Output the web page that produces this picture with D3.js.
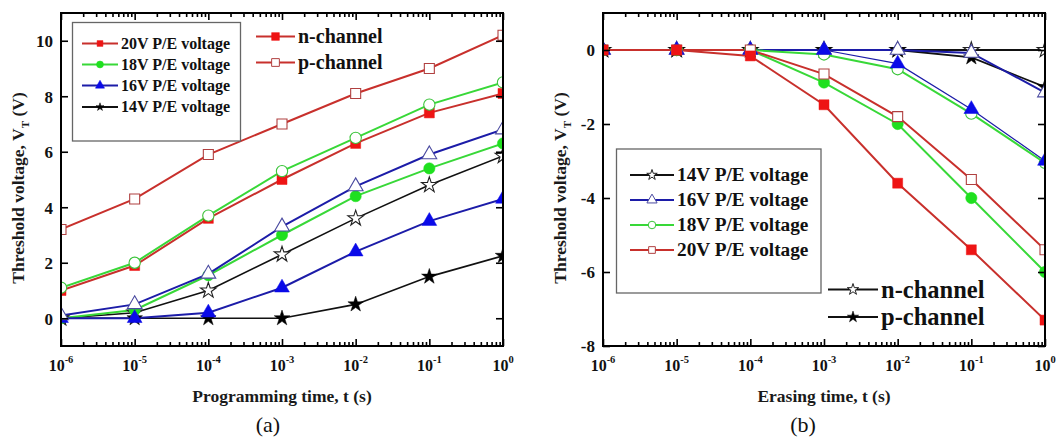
<!DOCTYPE html>
<html>
<head>
<meta charset="utf-8">
<script src="https://cdn.jsdelivr.net/npm/d3@7"></script>
<style>
  html, body { margin: 0; padding: 0; background: #fff; }
  svg { display: block; }
  text { font-family: "Liberation Serif", "Times New Roman", serif; }
</style>
</head>
<body>
<svg id="chart" width="1061" height="439"></svg>
<script>
// ---------- data ----------
const times = [1e-6, 1e-5, 1e-4, 1e-3, 1e-2, 1e-1, 1];
const xTickExponents = [-6, -5, -4, -3, -2, -1, 0];
const progYTicks = [0, 2, 4, 6, 8, 10];
const eraseYTicks = [0, -2, -4, -6, -8];

// (a) Programming: filled = n-channel, open = p-channel
const progN20 = [1.0, 1.9, 3.6, 5.0, 6.3, 7.4, 8.1];
const progP20 = [3.2, 4.3, 5.9, 7.0, 8.1, 9.0, 10.2];
const progN18 = [0.0, 0.3, 1.55, 3.0, 4.4, 5.4, 6.3];
const progP18 = [1.1, 2.0, 3.7, 5.3, 6.5, 7.7, 8.5];
const progN16 = [0.0, 0.0, 0.2, 1.1, 2.4, 3.5, 4.3];
const progP16 = [0.1, 0.5, 1.6, 3.3, 4.75, 5.9, 6.8];
const progN14 = [0.0, 0.0, 0.0, 0.0, 0.5, 1.5, 2.25];
const progP14 = [0.0, 0.2, 1.0, 2.3, 3.6, 4.8, 5.85];

// (b) Erasing: open = n-channel, filled = p-channel
const eraseN14 = [0, 0, 0, 0, 0, 0, 0];
const eraseP14 = [0, 0, 0, 0, 0, -0.2, -1.0];
const eraseN16 = [0, 0, 0, 0, 0, -0.08, -1.15];
const eraseP16 = [0, 0, 0, 0, -0.37, -1.6, -3.0];
const eraseN18 = [0, 0, 0, -0.12, -0.52, -1.72, -3.05];
const eraseP18 = [0, 0, 0, -0.88, -2.0, -4.0, -6.0];
const eraseN20 = [0, 0, 0, -0.65, -1.8, -3.5, -5.4];
const eraseP20 = [0, 0, -0.16, -1.48, -3.6, -5.4, -7.3];

const voltageLabels = ["14V P/E voltage", "16V P/E voltage", "18V P/E voltage", "20V P/E voltage"];

// ---------- styles ----------
const C = {
  black: { line: "#111", fill: "#000", open: "#222" },
  blue:  { line: "#1c1ca8", fill: "#0a0ae8", open: "#4a4aa0" },
  green: { line: "#38d838", fill: "#1fe01f", open: "#3ac43a" },
  red:   { line: "#c8302c", fill: "#ee1414", open: "#b04040" }
};
const SYM = { star: d3.symbolStar, tri: d3.symbolTriangle, circ: d3.symbolCircle, sq: d3.symbolSquare };
const SIZE = { star: 75, tri: 95, circ: 100, sq: 100 };

const svg = d3.select("#chart");

function panel(opt) {
  const x = d3.scaleLog().domain([1e-6, 1]).range([opt.x0, opt.x1]);
  const y = d3.scaleLinear().domain(opt.yDomain).range([346, 13]);
  const g = svg.append("g");
  const clipId = "clip" + opt.id;
  svg.append("defs").append("clipPath").attr("id", clipId)
    .append("rect").attr("x", opt.x0).attr("y", 13)
    .attr("width", opt.x1 - opt.x0).attr("height", 333);

  const plot = g.append("g").attr("clip-path", `url(#${clipId})`);
  const line = d3.line().x(d => x(d[0])).y(d => y(d[1]));

  opt.series.forEach(s => {
    plot.append("path").datum(times.map((t, i) => [t, s.values[i]]))
      .attr("d", line).attr("fill", "none")
      .attr("stroke", C[s.color].line).attr("stroke-width", s.lw || 2);
  });
  opt.markerOrder.forEach(idx => {
    const s = opt.series[idx];
    plot.selectAll(null).data(times.map((t, i) => [t, s.values[i]])).enter()
      .append("path")
      .attr("transform", d => `translate(${x(d[0])},${y(d[1])})`)
      .attr("d", d3.symbol().type(SYM[s.sym]).size(SIZE[s.sym]))
      .attr("fill", s.open ? "#fff" : C[s.color].fill)
      .attr("stroke", s.open ? C[s.color].open : C[s.color].fill)
      .attr("stroke-width", s.open ? 1.1 : 0.5);
  });

  const majors = xTickExponents.map(e => Math.pow(10, e));
  const minors = [];
  for (let e = -6; e < 0; e++) for (let m = 2; m <= 9; m++) minors.push(m * Math.pow(10, e));

  const axG = g.append("g");
  axG.append("g").attr("transform", "translate(0,346)")
    .call(d3.axisBottom(x).tickValues(majors).tickSize(-7).tickFormat(""));
  axG.append("g").attr("transform", "translate(0,346)")
    .call(d3.axisBottom(x).tickValues(minors).tickSize(-4).tickFormat(""));
  axG.append("g").attr("transform", "translate(0,13)")
    .call(d3.axisTop(x).tickValues(majors).tickSize(-7).tickFormat(""));
  axG.append("g").attr("transform", "translate(0,13)")
    .call(d3.axisTop(x).tickValues(minors).tickSize(-4).tickFormat(""));
  const leftAx = axG.append("g").attr("transform", `translate(${opt.x0},0)`)
    .call(d3.axisLeft(y).tickValues(opt.yTicks).tickSize(-7).tickPadding(8)
      .tickFormat(d => d3.format("d")(d).replace("−", "-")));
  axG.append("g").attr("transform", `translate(${opt.x1},0)`)
    .call(d3.axisRight(y).tickValues(opt.yTicks).tickSize(-7).tickFormat(""));
  axG.selectAll(".domain").remove();
  axG.selectAll(".tick line").attr("stroke", "#000").attr("stroke-width", 1.6);
  leftAx.selectAll(".tick text")
    .attr("font-family", "Liberation Serif").attr("font-weight", "bold")
    .attr("font-size", 17).attr("fill", "#111").attr("dy", "0.34em");

  const xl = g.append("g");
  xTickExponents.forEach(e => {
    const t = xl.append("text").attr("x", x(Math.pow(10, e))).attr("y", 371)
      .attr("text-anchor", "middle").attr("font-weight", "bold").attr("fill", "#111")
      .attr("font-size", 16);
    t.append("tspan").text("10");
    t.append("tspan").attr("dy", -8).attr("font-size", 10.5).text(String(e).replace("−", "-"));
  });

  g.append("rect").attr("x", opt.x0).attr("y", 13)
    .attr("width", opt.x1 - opt.x0).attr("height", 333)
    .attr("fill", "none").attr("stroke", "#000").attr("stroke-width", 2);

  g.append("text").attr("x", (opt.x0 + opt.x1) / 2).attr("y", 402)
    .attr("text-anchor", "middle").attr("font-weight", "bold").attr("font-size", 17.5)
    .attr("fill", "#1a1a1a").text(opt.xTitle);
  const yt = g.append("text").attr("transform", `translate(${opt.yTitleX},188) rotate(-90)`)
    .attr("text-anchor", "middle").attr("font-weight", "bold").attr("font-size", 17.5)
    .attr("fill", "#1a1a1a");
  yt.append("tspan").text("Threshold voltage, V");
  yt.append("tspan").attr("dy", 5).attr("font-size", 11).text("T");
  yt.append("tspan").attr("dy", -5).text(" (V)");

  g.append("text").attr("x", opt.labelX).attr("y", 432).attr("text-anchor", "middle")
    .attr("font-size", 22).attr("fill", "#111").text(opt.label);

  return { x, y, g };
}

function legendEntry(g, lx0, lx1, yy, s, text, fs, msize) {
  const cx = (lx0 + lx1) / 2;
  g.append("line").attr("x1", lx0).attr("x2", lx1).attr("y1", yy).attr("y2", yy)
    .attr("stroke", C[s.color].line).attr("stroke-width", 2);
  g.append("path").attr("transform", `translate(${cx},${yy})`)
    .attr("d", d3.symbol().type(SYM[s.sym]).size(msize))
    .attr("fill", s.open ? "#fff" : C[s.color].fill)
    .attr("stroke", s.open ? C[s.color].open : C[s.color].fill)
    .attr("stroke-width", s.open ? 1 : 0.5);
  g.append("text").attr("x", lx1 + 3).attr("y", yy).attr("dy", "0.33em")
    .attr("font-weight", "bold").attr("font-size", fs).attr("fill", "#111").text(text);
}

// ---------- panel (a) ----------
const seriesA = [
  { values: progN14, color: "black", sym: "star", open: false, lw: 1.6 },
  { values: progP14, color: "black", sym: "star", open: true, lw: 1.6 },
  { values: progN20, color: "red", sym: "sq", open: false },
  { values: progP20, color: "red", sym: "sq", open: true },
  { values: progN18, color: "green", sym: "circ", open: false },
  { values: progP18, color: "green", sym: "circ", open: true },
  { values: progN16, color: "blue", sym: "tri", open: false },
  { values: progP16, color: "blue", sym: "tri", open: true }
];
const pa = panel({
  id: "a", x0: 61, x1: 503, yDomain: [-1, 11], yTicks: progYTicks,
  series: seriesA, markerOrder: [0, 1, 2, 3, 4, 5, 6, 7],
  xTitle: "Programming time, t (s)", yTitleX: 24, label: "(a)", labelX: 268
});
const la = pa.g.append("g");
la.append("rect").attr("x", 72.5).attr("y", 22.5).attr("width", 168).attr("height", 118.5)
  .attr("fill", "#fff").attr("stroke", "#666").attr("stroke-width", 1.3);
const legA = [
  { s: { color: "red", sym: "sq", open: false }, t: voltageLabels[3], size: 34 },
  { s: { color: "green", sym: "circ", open: false }, t: voltageLabels[2], size: 38 },
  { s: { color: "blue", sym: "tri", open: false }, t: voltageLabels[1], size: 36 },
  { s: { color: "black", sym: "star", open: false }, t: voltageLabels[0], size: 20 }
];
[43.5, 64.5, 85.5, 107].forEach((yy, i) => legendEntry(la, 82, 118, yy, legA[i].s, legA[i].t, 16, legA[i].size));
legendEntry(la, 256, 295, 36.5, { color: "red", sym: "sq", open: false }, "n-channel", 20, 60);
legendEntry(la, 256, 295, 62.5, { color: "red", sym: "sq", open: true }, "p-channel", 20, 60);

// ---------- panel (b) ----------
const seriesB = [
  { values: eraseN14, color: "black", sym: "star", open: true, lw: 1.8 },
  { values: eraseP14, color: "black", sym: "star", open: false, lw: 1.8 },
  { values: eraseN16, color: "blue", sym: "tri", open: true },
  { values: eraseP16, color: "blue", sym: "tri", open: false, lw: 1.2 },
  { values: eraseN18, color: "green", sym: "circ", open: true },
  { values: eraseP18, color: "green", sym: "circ", open: false },
  { values: eraseN20, color: "red", sym: "sq", open: true },
  { values: eraseP20, color: "red", sym: "sq", open: false }
];
const pb = panel({
  id: "b", x0: 603, x1: 1045, yDomain: [-8, 1], yTicks: eraseYTicks,
  series: seriesB, markerOrder: [0, 1, 4, 5, 2, 3, 6, 7],
  xTitle: "Erasing time, t (s)", yTitleX: 566, label: "(b)", labelX: 803
});
const lb = pb.g.append("g");
lb.append("rect").attr("x", 616.5).attr("y", 149).attr("width", 204.5).attr("height", 144)
  .attr("fill", "#fff").attr("stroke", "#666").attr("stroke-width", 1.3);
const legB = [
  { s: { color: "black", sym: "star", open: true }, size: 34 },
  { s: { color: "blue", sym: "tri", open: true }, size: 45 },
  { s: { color: "green", sym: "circ", open: true }, size: 45 },
  { s: { color: "red", sym: "sq", open: true }, size: 45 }
];
[175, 200, 225, 250].forEach((yy, i) => legendEntry(lb, 630, 674, yy, legB[i].s, voltageLabels[i], 19.3, legB[i].size));
legendEntry(lb, 828, 878, 289.5, { color: "black", sym: "star", open: true }, "n-channel", 24.5, 40);
legendEntry(lb, 828, 878, 317, { color: "black", sym: "star", open: false }, "p-channel", 24.5, 40);
</script>
</body>
</html>
